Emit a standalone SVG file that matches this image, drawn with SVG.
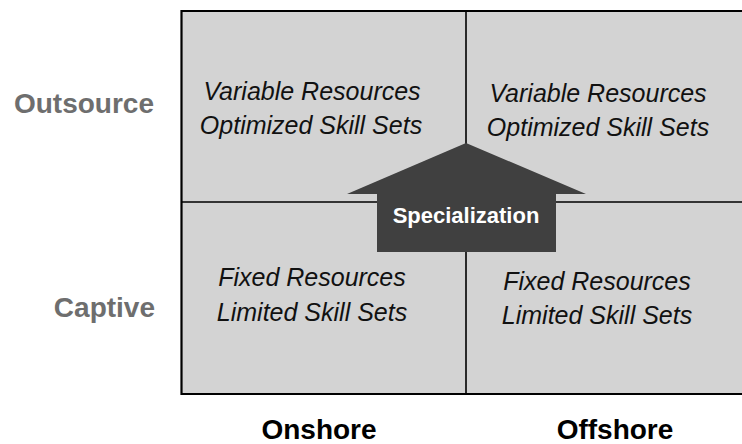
<svg xmlns="http://www.w3.org/2000/svg" width="742" height="444" viewBox="0 0 742 444">
<style>
.cell{fill:#d3d3d3;stroke:none}
.div{stroke:#000;stroke-width:1.6;fill:none}
.border{stroke:#000;stroke-width:2.2;fill:none}
.it{font-family:"Liberation Sans",Arial,sans-serif;font-style:italic;font-size:25px;fill:#111;text-anchor:middle}
.row{font-family:"Liberation Sans",Arial,sans-serif;font-weight:bold;font-size:28px;fill:#6e6e6e;text-anchor:end}
.col{font-family:"Liberation Sans",Arial,sans-serif;font-weight:bold;font-size:28px;fill:#000;text-anchor:middle}
.arrowtxt{font-family:"Liberation Sans",Arial,sans-serif;font-weight:bold;font-size:22px;fill:#fff;text-anchor:middle}
</style>
<rect x="0" y="0" width="742" height="444" fill="#fff"/>
<g id="grid">
<rect class="cell" x="181.5" y="11" width="562" height="383"/>
<path class="div" d="M466 11 V394 M181.5 202 H743"/>
<path class="border" d="M743 11 H181.5 V394 H743"/>
</g>
<g id="cell-outsource-onshore">
<text class="it" x="312" y="100">Variable Resources</text>
<text class="it" x="311" y="134">Optimized Skill Sets</text>
</g>
<g id="cell-outsource-offshore">
<text class="it" x="598" y="102">Variable Resources</text>
<text class="it" x="598" y="136">Optimized Skill Sets</text>
</g>
<g id="cell-captive-onshore">
<text class="it" x="312" y="286">Fixed Resources</text>
<text class="it" x="312" y="321">Limited Skill Sets</text>
</g>
<g id="cell-captive-offshore">
<text class="it" x="597" y="290">Fixed Resources</text>
<text class="it" x="597" y="324">Limited Skill Sets</text>
</g>
<g id="connectors">
<g id="specialization-arrow">
<polygon points="466,143 586,194 556,194 556,252 377,252 377,194 347,194" fill="#404040"/>
<text class="arrowtxt" x="466" y="223">Specialization</text>
</g>
</g>
<g id="label-outsource"><text class="row" x="154" y="113">Outsource</text></g>
<g id="label-captive"><text class="row" x="155" y="317">Captive</text></g>
<g id="label-onshore"><text class="col" x="319" y="439">Onshore</text></g>
<g id="label-offshore"><text class="col" x="615" y="439">Offshore</text></g>
</svg>
